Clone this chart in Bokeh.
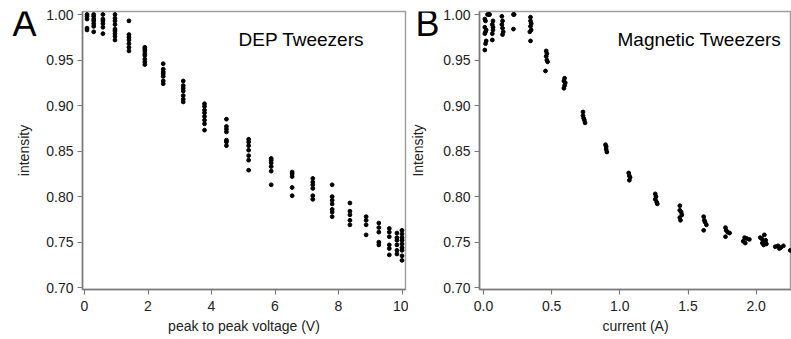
from bokeh.plotting import figure
from bokeh.layouts import row
from bokeh.models import Range1d, FixedTicker, PrintfTickFormatter, Label, ColumnDataSource
from bokeh.embed import file_html
from bokeh.resources import INLINE

# ---------------- data: panel A (DEP tweezers) ----------------
a_voltage = [0.08, 0.29, 0.58, 0.96, 1.40, 1.90, 2.48, 3.11, 3.78, 4.47, 5.17,
             5.88, 6.54, 7.19, 7.80, 8.36, 8.87, 9.27, 9.60, 9.84, 10.0]
a_intensity = [
    [1.000, 0.998, 0.995, 0.985, 0.983],
    [1.000, 0.998, 0.995, 0.993, 0.990, 0.987, 0.981],
    [1.000, 0.995, 0.993, 0.990, 0.986, 0.979],
    [1.000, 0.996, 0.993, 0.989, 0.984, 0.982, 0.979, 0.976, 0.972],
    [0.993, 0.978, 0.975, 0.972, 0.968, 0.964, 0.960],
    [0.964, 0.962, 0.960, 0.957, 0.955, 0.951, 0.948, 0.945],
    [0.946, 0.940, 0.937, 0.935, 0.932, 0.927, 0.924],
    [0.927, 0.922, 0.919, 0.916, 0.911, 0.907, 0.904],
    [0.902, 0.899, 0.895, 0.892, 0.888, 0.884, 0.880, 0.873],
    [0.885, 0.877, 0.874, 0.871, 0.862, 0.860, 0.856],
    [0.863, 0.860, 0.856, 0.851, 0.845, 0.840, 0.829],
    [0.842, 0.840, 0.837, 0.833, 0.828, 0.813],
    [0.827, 0.825, 0.822, 0.810, 0.801],
    [0.820, 0.816, 0.813, 0.809, 0.801, 0.797],
    [0.813, 0.800, 0.796, 0.792, 0.786, 0.783, 0.778],
    [0.793, 0.784, 0.780, 0.774, 0.769],
    [0.778, 0.774, 0.769, 0.758],
    [0.771, 0.766, 0.761, 0.750, 0.747],
    [0.765, 0.761, 0.756, 0.747, 0.743, 0.736],
    [0.760, 0.755, 0.752, 0.747, 0.741, 0.737],
    [0.763, 0.759, 0.755, 0.752, 0.748, 0.744, 0.741, 0.735, 0.730],
]

# ---------------- data: panel B (magnetic tweezers) ----------------
b_current = [
    0.03, 0.04, 0.045, 0.01, 0.015, 0.01, 0.02, 0.015, 0.01, 0.02, 0.015, 0.01,
    0.07, 0.065, 0.07, 0.07, 0.065, 0.065,
    0.135, 0.14, 0.135, 0.14, 0.145, 0.14,
    0.22, 0.225, 0.22,
    0.345, 0.345, 0.35, 0.345, 0.35, 0.34, 0.345,
    0.46, 0.465, 0.46, 0.465, 0.47, 0.455,
    0.595, 0.59, 0.60, 0.595, 0.59,
    0.73, 0.73, 0.735, 0.74, 0.745,
    0.895, 0.90, 0.90, 0.905,
    1.065, 1.07, 1.075, 1.07,
    1.26, 1.265, 1.26, 1.27, 1.275,
    1.44, 1.44, 1.45, 1.455, 1.44, 1.445,
    1.615, 1.62, 1.625, 1.635, 1.615,
    1.775, 1.78, 1.79, 1.805, 1.775,
    1.915, 1.93, 1.95, 1.905, 1.92,
    2.06, 2.04, 2.05, 2.07, 2.065, 2.045, 2.075, 2.055, 2.03,
    2.14, 2.16, 2.18, 2.20, 2.17,
    2.25,
]
b_intensity = [
    1.000, 1.000, 1.000, 0.995, 0.993, 0.986, 0.983, 0.981, 0.979, 0.971, 0.968, 0.961,
    0.993, 0.989, 0.986, 0.983, 0.979, 0.972,
    0.998, 0.993, 0.989, 0.985, 0.981, 0.978,
    1.000, 1.000, 0.984,
    0.997, 0.993, 0.990, 0.987, 0.983, 0.981, 0.971,
    0.960, 0.957, 0.954, 0.950, 0.948, 0.938,
    0.930, 0.927, 0.925, 0.922, 0.919,
    0.893, 0.889, 0.886, 0.884, 0.881,
    0.857, 0.855, 0.852, 0.849,
    0.826, 0.823, 0.821, 0.818,
    0.803, 0.800, 0.797, 0.794, 0.792,
    0.790, 0.785, 0.783, 0.780, 0.777, 0.774,
    0.778, 0.774, 0.772, 0.769, 0.763,
    0.766, 0.763, 0.761, 0.760, 0.756,
    0.755, 0.754, 0.753, 0.751, 0.749,
    0.758, 0.754, 0.752, 0.752, 0.750, 0.749, 0.748, 0.747, 0.755,
    0.745, 0.746, 0.744, 0.746, 0.743,
    0.741,
]

y_ticks = [0.70, 0.75, 0.80, 0.85, 0.90, 0.95, 1.00]
a_x_ticks = [0, 2, 4, 6, 8, 10]
b_x_ticks = [0.0, 0.5, 1.0, 1.5, 2.0]

FONT = "Liberation Sans"
AXIS_COL = "#7a7a7a"
TEXT_COL = "#222222"
H = 339
TOP, BOTTOM = 11, 50          # shared frame borders (row() aligns the frames)
FRAME_H = H - TOP - BOTTOM


def side_panel(width, letter, letter_x, ylabel, ylabel_x):
    """Blank strip holding the panel letter and the rotated y-axis title."""
    s = figure(width=width, height=H, output_backend="svg", toolbar_location=None,
               x_range=Range1d(0, width), y_range=Range1d(0, FRAME_H),
               x_axis_location=None, y_axis_location=None,
               min_border_left=0, min_border_right=0,
               min_border_top=TOP, min_border_bottom=BOTTOM)
    s.outline_line_color = None
    s.grid.visible = False
    s.add_layout(Label(x=letter_x, y=FRAME_H - 12, x_units="screen", y_units="screen",
                       text=letter, text_font=FONT, text_font_size="36px",
                       text_color="black", text_baseline="alphabetic"))
    s.add_layout(Label(x=ylabel_x, y=FRAME_H - 139, x_units="screen", y_units="screen",
                       text=ylabel, angle=90, angle_units="deg", text_align="center",
                       text_baseline="middle", text_font=FONT, text_font_size="14px",
                       text_color=TEXT_COL))
    return s


def style(p, xticks, xfmt, xlabel):
    p.outline_line_color = "#a0a0a0"
    p.outline_line_width = 1.5
    p.grid.visible = False
    for ax in (p.xaxis[0], p.yaxis[0]):
        ax.axis_line_color = AXIS_COL
        ax.axis_line_width = 1.5
        ax.major_tick_line_color = AXIS_COL
        ax.major_tick_line_width = 1.2
        ax.major_tick_out = 5
        ax.major_tick_in = 0
        ax.minor_tick_line_color = None
        ax.major_label_text_font = FONT
        ax.major_label_text_font_size = "14px"
        ax.major_label_text_color = TEXT_COL
        ax.axis_label_text_font = FONT
        ax.axis_label_text_font_size = "14px"
        ax.axis_label_text_font_style = "normal"
        ax.axis_label_text_color = TEXT_COL
    p.xaxis[0].ticker = FixedTicker(ticks=xticks)
    p.xaxis[0].formatter = PrintfTickFormatter(format=xfmt)
    p.xaxis[0].axis_label = xlabel
    p.xaxis[0].major_label_standoff = 6
    p.xaxis[0].axis_label_standoff = 4
    p.yaxis[0].ticker = FixedTicker(ticks=y_ticks)
    p.yaxis[0].formatter = PrintfTickFormatter(format="%.2f")
    p.yaxis[0].major_label_standoff = 4


# ---------------- panel A ----------------
ax_list, ay_list = [], []
for v, vals in zip(a_voltage, a_intensity):
    for val in vals:
        ax_list.append(v)
        ay_list.append(val)
src_a = ColumnDataSource(dict(x=ax_list, y=ay_list))

side_a = side_panel(40, "A", 12, "intensity", 23)
pa = figure(width=368, height=H, output_backend="svg", toolbar_location=None,
            x_range=Range1d(-0.063, 10.11), y_range=Range1d(0.698, 1.0033),
            min_border_left=42, min_border_right=3, min_border_top=TOP, min_border_bottom=BOTTOM)
pa.scatter("x", "y", source=src_a, size=3.8, color="black")
style(pa, a_x_ticks, "%d", "peak to peak voltage (V)")
pa.add_layout(Label(x=156, y=250, x_units="screen", y_units="screen", text="DEP Tweezers",
                    text_font=FONT, text_font_size="19px", text_color="black",
                    text_baseline="alphabetic"))

# ---------------- panel B ----------------
src_b = ColumnDataSource(dict(x=b_current, y=b_intensity))
side_b = side_panel(32, "B", 7, "Intensity", 9)
pb = figure(width=351, height=H, output_backend="svg", toolbar_location=None,
            x_range=Range1d(-0.029, 2.259), y_range=Range1d(0.698, 1.0033),
            min_border_left=38, min_border_right=0, min_border_top=TOP, min_border_bottom=BOTTOM)
pb.scatter("x", "y", source=src_b, size=3.8, color="black")
style(pb, b_x_ticks, "%.1f", "current (A)")
pb.add_layout(Label(x=138, y=250, x_units="screen", y_units="screen", text="Magnetic Tweezers",
                    text_font=FONT, text_font_size="19px", text_color="black",
                    text_baseline="alphabetic"))

layout = row(side_a, pa, side_b, pb, spacing=0)
open("out.html", "w").write(file_html(layout, INLINE))
